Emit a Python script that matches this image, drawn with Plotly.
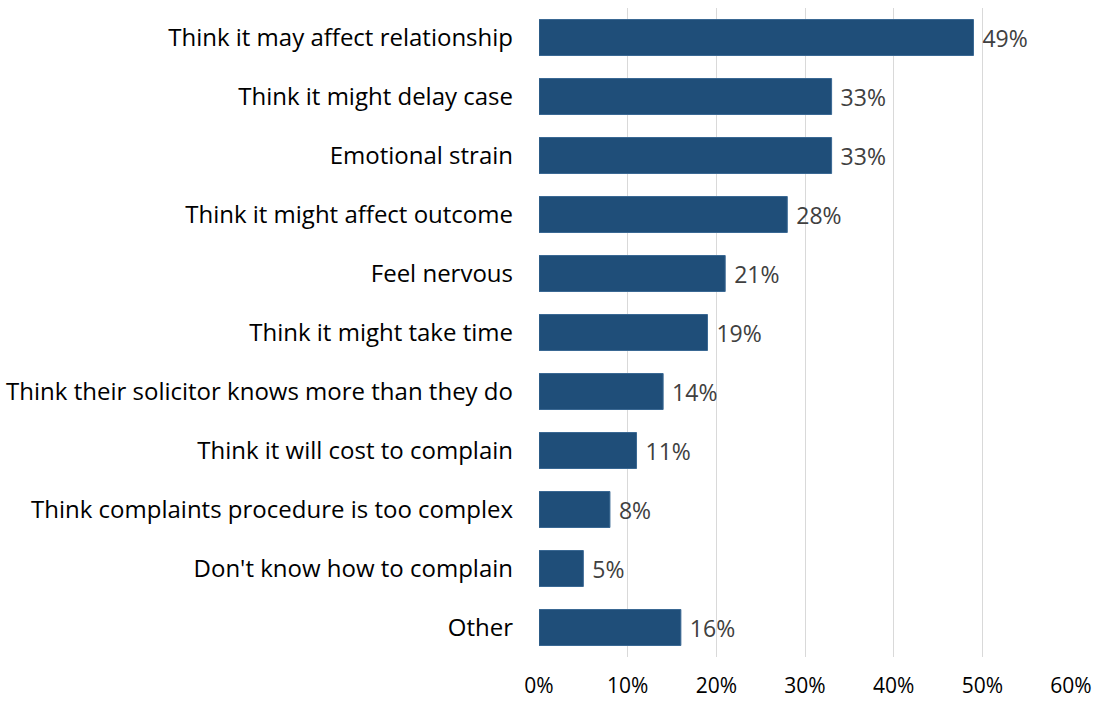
import plotly.graph_objects as go

# Reasons for not complaining, share of respondents (%)
categories = [
    "Think it may affect relationship",
    "Think it might delay case",
    "Emotional strain",
    "Think it might affect outcome",
    "Feel nervous",
    "Think it might take time",
    "Think their solicitor knows more than they do",
    "Think it will cost to complain",
    "Think complaints procedure is too complex",
    "Don't know how to complain",
    "Other",
]
values = [49, 33, 33, 28, 21, 19, 14, 11, 8, 5, 16]
tick_vals = [0, 10, 20, 30, 40, 50, 60]
tick_text = ["0%", "10%", "20%", "30%", "40%", "50%", "60%"]

FONT = "Open Sans"

fig = go.Figure(
    go.Bar(
        y=categories,
        x=values,
        orientation="h",
        marker=dict(color="#1F4E79", line=dict(color="#3A6893", width=1)),
        text=[f"\u00a0{v}%" for v in values],
        textposition="outside",
        textfont=dict(family=FONT, size=23, color="#404040"),
        cliponaxis=False,
        hoverinfo="skip",
    )
)

fig.update_layout(
    width=1093,
    height=701,
    margin=dict(l=539, r=22, t=8, b=44),
    paper_bgcolor="white",
    plot_bgcolor="white",
    bargap=0.39,
    showlegend=False,
    font=dict(family=FONT, size=21, color="#000000"),
    xaxis=dict(
        range=[0, 60],
        tickvals=tick_vals,
        ticktext=tick_text,
        showgrid=True,
        gridcolor="#D9D9D9",
        gridwidth=1,
        zeroline=False,
        showline=False,
        ticks="",
        automargin=False,
        tickfont=dict(family=FONT, size=21, color="#000000"),
        ticklabelstandoff=14,
    ),
    yaxis=dict(
        categoryorder="array",
        categoryarray=categories[::-1],
        showgrid=False,
        zeroline=False,
        showline=False,
        ticks="",
        automargin=False,
        ticklabelstandoff=25,
        tickfont=dict(family=FONT, size=24, color="#000000"),
    ),
)

fig.write_html("out.html")
